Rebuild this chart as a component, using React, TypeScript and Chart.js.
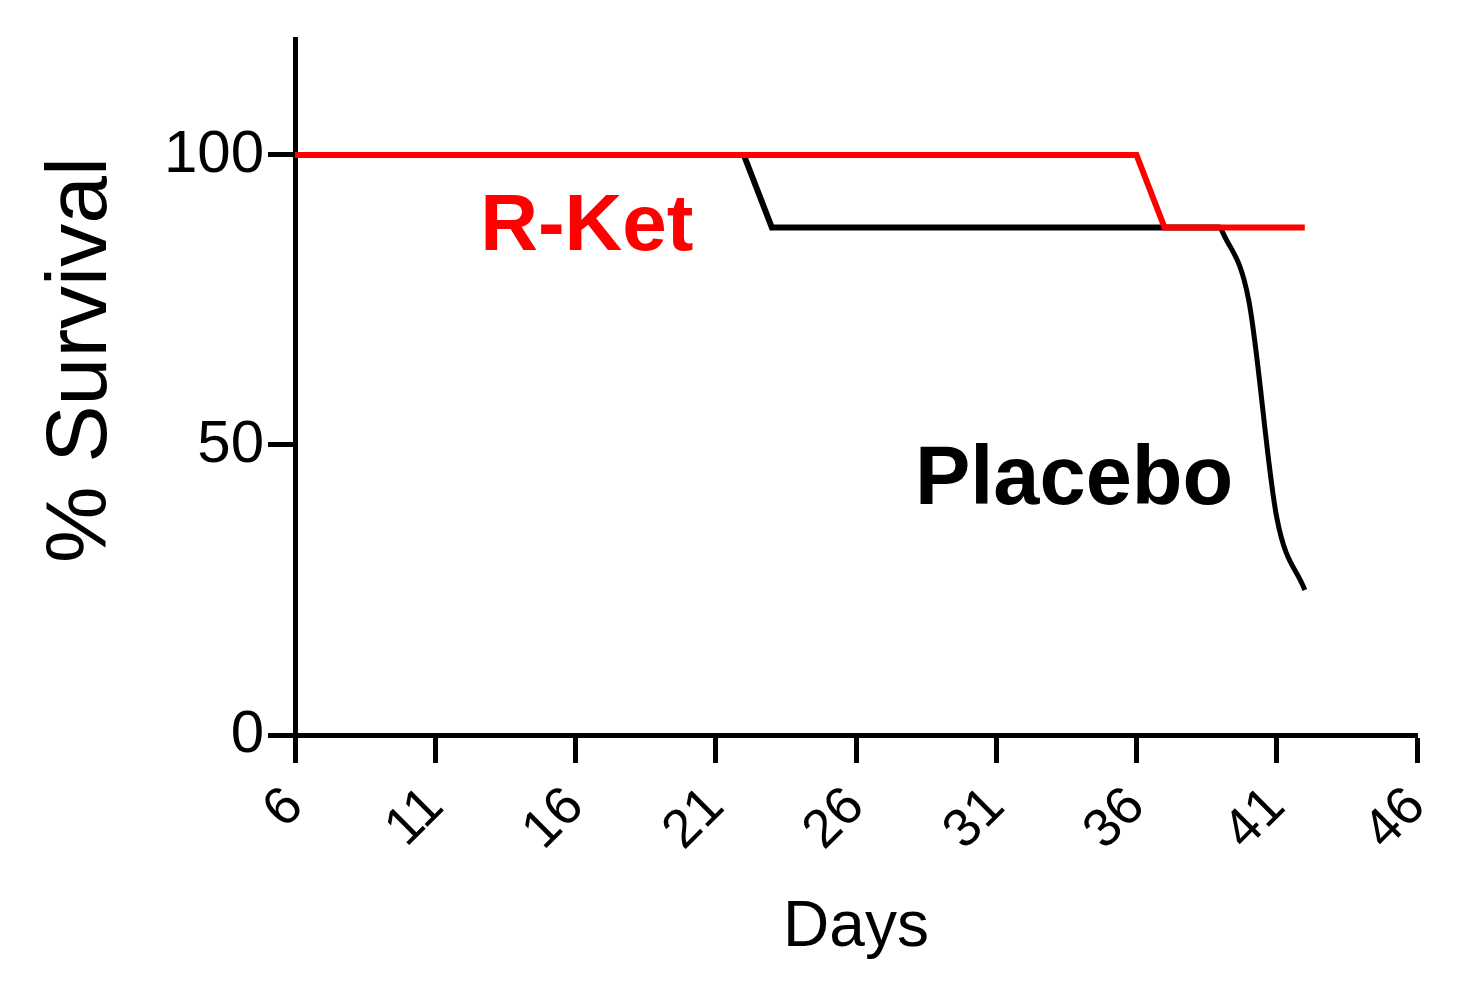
import React, { useEffect, useRef } from "react";
import { Chart, registerables } from "chart.js";

Chart.register(...registerables);

const placeboDays = [6, 22, 23, 39, 40, 41, 42];
const placeboSurvival = [100, 100, 87.5, 87.5, 75, 37.5, 25];
const rketDays = [6, 36, 37, 42];
const rketSurvival = [100, 100, 87.5, 87.5];
const xTicks = [6, 11, 16, 21, 26, 31, 36, 41, 46];
const yTicks = [0, 50, 100];
const seriesLabels = ["R-Ket", "Placebo"];
const xTitle = "Days";
const yTitle = "% Survival";

const FONT = "'Liberation Sans', Arial, Helvetica, sans-serif";

const annotationPlugin = {
  id: "annots",
  afterDatasetsDraw(chart: any) {
    const { ctx, scales } = chart;
    const x = scales.x;
    const y = scales.y;
    ctx.save();
    ctx.textBaseline = "alphabetic";
    ctx.textAlign = "left";
    ctx.font = `bold 80px ${FONT}`;
    ctx.fillStyle = "#ff0000";
    ctx.fillText(seriesLabels[0], x.getPixelForValue(12.6), y.getPixelForValue(83.6));
    ctx.font = `bold 83px ${FONT}`;
    ctx.fillStyle = "#000000";
    ctx.fillText(seriesLabels[1], x.getPixelForValue(28.1), y.getPixelForValue(39.8));
    // y axis title
    ctx.translate(82, 360);
    ctx.rotate(-Math.PI / 2);
    ctx.textAlign = "center";
    ctx.textBaseline = "middle";
    ctx.font = `86px ${FONT}`;
    ctx.fillText(yTitle, 0, 0);
    ctx.restore();
  },
};

export default function App() {
  const ref = useRef<HTMLCanvasElement | null>(null);
  useEffect(() => {
    if (!ref.current) return;
    const placeboEarly = placeboDays.slice(0, 4).map((d, i) => ({ x: d, y: placeboSurvival[i] }));
    const placeboLate = placeboDays.slice(3).map((d, i) => ({ x: d, y: placeboSurvival[i + 3] }));
    const rket = rketDays.map((d, i) => ({ x: d, y: rketSurvival[i] }));
    const chart = new Chart(ref.current, {
      type: "line",
      data: {
        datasets: [
          {
            label: seriesLabels[0],
            data: rket,
            borderColor: "#ff0000",
            borderWidth: 6,
            pointRadius: 0,
            tension: 0,
          },
          {
            label: seriesLabels[1],
            data: placeboEarly,
            borderColor: "#000000",
            borderWidth: 6,
            pointRadius: 0,
            tension: 0,
          },
          {
            label: seriesLabels[1] + " ",
            data: placeboLate,
            borderColor: "#000000",
            borderWidth: 5,
            pointRadius: 0,
            cubicInterpolationMode: "monotone",
          },
        ],
      },
      options: {
        responsive: false,
        animation: false,
        layout: { padding: { left: 0, top: 39, right: 41, bottom: 0 } },
        plugins: { legend: { display: false }, tooltip: { enabled: false } },
        scales: {
          x: {
            type: "linear",
            min: 6,
            max: 46,
            afterBuildTicks: (s: any) => {
              s.ticks = xTicks.map((v) => ({ value: v }));
            },
            afterFit: (s: any) => {
              s.height = 260;
              s.paddingLeft = 0;
              s.paddingRight = 0;
            },
            border: { display: true, color: "#000", width: 5 },
            grid: { drawOnChartArea: false, drawTicks: true, tickLength: 28, tickWidth: 5, tickColor: "#000" },
            ticks: {
              minRotation: 45,
              maxRotation: 45,
              color: "#000",
              padding: 12,
              font: { family: FONT, size: 54 },
            },
            title: {
              display: true,
              text: xTitle,
              color: "#000",
              font: { family: FONT, size: 64 },
              padding: { top: 0, bottom: 28 },
            },
          },
          y: {
            type: "linear",
            min: 0,
            max: 120,
            afterBuildTicks: (s: any) => {
              s.ticks = yTicks.map((v) => ({ value: v }));
            },
            afterFit: (s: any) => {
              s.width = 295;
              s.paddingTop = 0;
              s.paddingBottom = 0;
            },
            border: { display: true, color: "#000", width: 5 },
            grid: { drawOnChartArea: false, drawTicks: true, tickLength: 27, tickWidth: 5, tickColor: "#000" },
            ticks: {
              color: "#000",
              padding: 4,
              font: { family: FONT, size: 60 },
            },
          },
        },
      },
      plugins: [annotationPlugin],
    });
    return () => chart.destroy();
  }, []);
  return (
    <div style={{ position: "fixed", left: 0, top: 0, width: 1458, height: 995, background: "#fff" }}>
      <canvas ref={ref} width={1458} height={995} style={{ width: 1458, height: 995 }} />
    </div>
  );
}
